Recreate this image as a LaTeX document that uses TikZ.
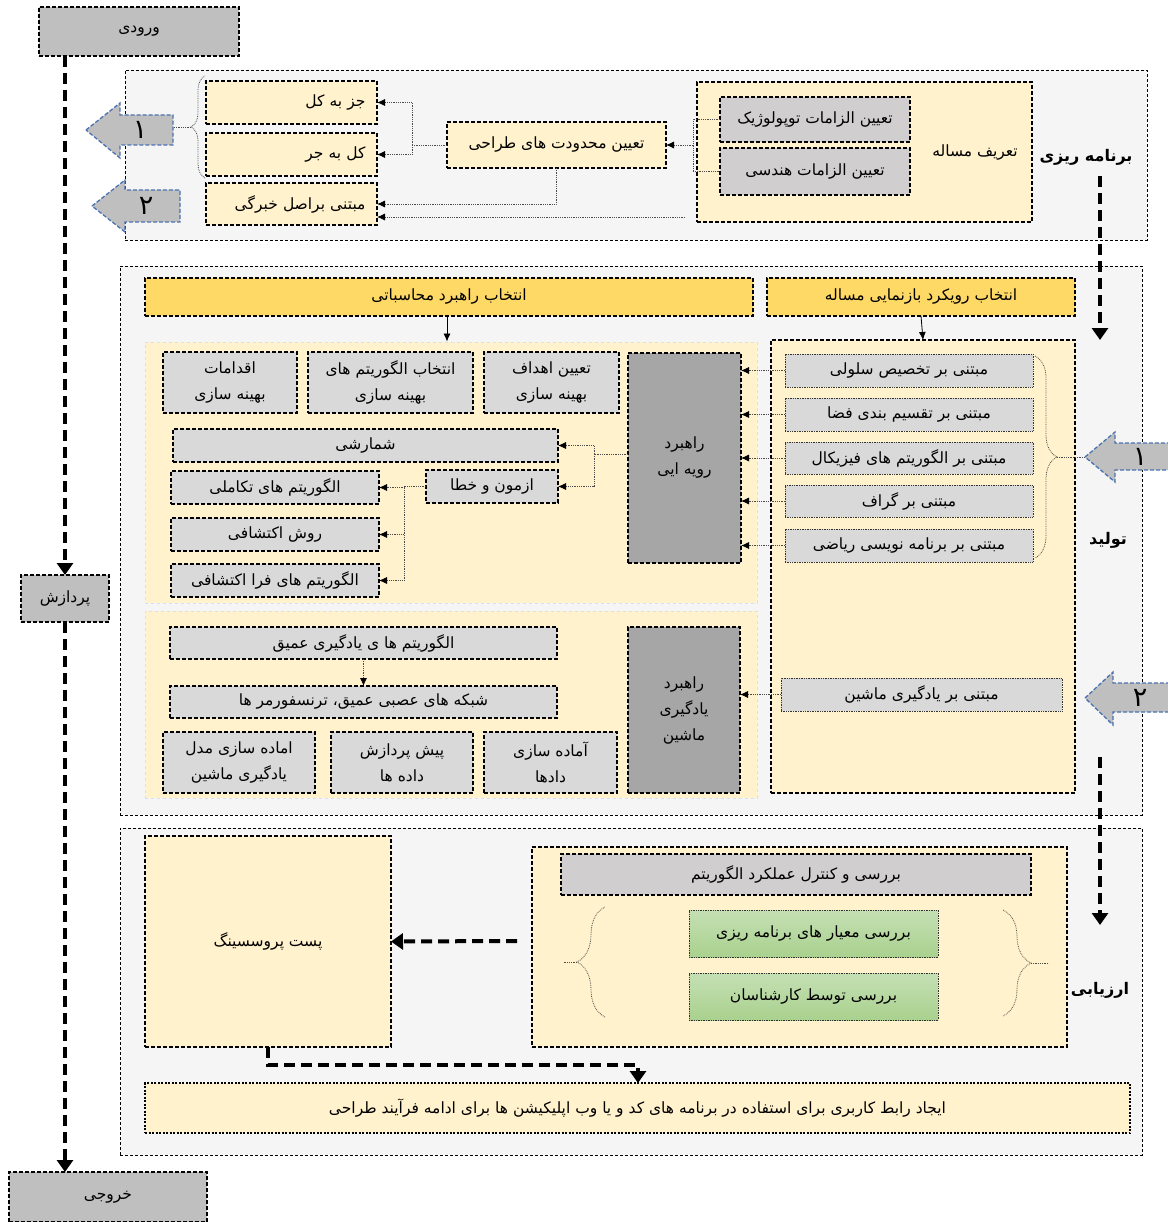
\documentclass[tikz,border=0pt]{standalone}
\usepackage{fontspec}
\newfontfamily\fafont[Script=Arabic]{DejaVu Sans}
\usetikzlibrary{arrows.meta,decorations.pathreplacing}
\TeXXeTstate=1
\newcommand{\fa}[1]{\beginR#1\endR}
\definecolor{secgray}{HTML}{F5F5F5}
\definecolor{lyel}{HTML}{FFF2CC}
\definecolor{goldy}{HTML}{FFD966}
\definecolor{boxgray}{HTML}{D9D9D9}
\definecolor{topgray}{HTML}{D0CECE}
\definecolor{darkgr}{HTML}{A6A6A6}
\definecolor{iogray}{HTML}{BFBFBF}
\definecolor{arrblue}{HTML}{4A72B0}
\definecolor{regblue}{HTML}{D6E0F0}
\definecolor{grtop}{HTML}{C5E0B4}
\definecolor{grbot}{HTML}{A9D18E}

\begin{document}
\begin{tikzpicture}[x=1pt,y=-1pt,
    font=\fafont\fontsize{15.5}{26}\selectfont,
    sect/.style={draw=black,line width=.8pt,dash pattern=on 3pt off 2pt,fill=secgray},
    box/.style={draw=black,line width=1.1pt,dash pattern=on 4pt off 2pt,
                align=center,inner sep=2pt,outer sep=0pt},
    ybox/.style={box,fill=lyel},
    gbox/.style={box,fill=boxgray},
    tbox/.style={box,fill=topgray},
    dbox/.style={box,fill=darkgr},
    hbox/.style={box,fill=goldy},
    iobox/.style={box,fill=iogray},
    lst/.style={draw=black!80,line width=.7pt,densely dotted,fill=boxgray,
                align=center,inner sep=2pt,outer sep=0pt},
    grbox/.style={lst,top color=grtop,bottom color=grbot},
    region/.style={draw=regblue,line width=1pt,dashed,fill=lyel},
    rtxt/.style={text width=#1,align=right},
    cn/.style={draw=black!70,line width=.8pt,densely dotted},
    ar/.style={cn,-{Latex[length=8pt,width=7pt,black]}},
    sar/.style={draw=black,line width=.8pt,-{Latex[length=8pt,width=7pt]}},
    big/.style={line width=4pt,dash pattern=on 11pt off 6pt,
                -{Triangle[length=12pt,width=16pt]}},
    blk/.style={draw=arrblue,line width=1.3pt,dash pattern=on 4pt off 2pt,fill=iogray},
    num/.style={font=\fafont\fontsize{27}{27}\selectfont},
    brc/.style={cn,decorate,decoration={brace,amplitude=#1}},
    lbl/.style={font=\fafont\fontsize{16}{20}\selectfont\bfseries}
  ]
  \fill[white] (0,0) rectangle (1167,1222);
  \useasboundingbox (0,0) rectangle (1167,1222);

  % input / processing / output
  \node[iobox,minimum width=200,minimum height=49] (inp) at (139,31.5) {\fa{ورودی}};
  \node[iobox,minimum width=88,minimum height=47] (prc) at (65,598.5) {\fa{پردازش}};
  \node[iobox,minimum width=198,minimum height=50] (outp) at (108,1197) {\fa{خروجی}};
  \draw[big] (inp.south -| prc.north) -- (prc.north);
  \draw[big] (prc.south) -- (prc.south |- outp.north);

  % planning
  \node[sect,minimum width=1022,minimum height=170] (plan) at (636,155) {};
  \node[ybox,minimum width=335,minimum height=140] (def) at (864.5,152) {};
  \node (deflbl) at (975,153) {\fa{تعریف مساله}};
  \node[tbox,minimum width=190,minimum height=45] (topo) at (815,119.5) {\fa{تعیین الزامات توپولوژیک}};
  \node[tbox,minimum width=190,minimum height=47] (geom) at (815,171.5) {\fa{تعیین الزامات هندسی}};
  \node[ybox,minimum width=219,minimum height=46] (cons) at (556.5,145) {\fa{تعیین محدودت های طراحی}};
  \node[ybox,rtxt=148,minimum width=171,minimum height=43] (jozb) at (291.5,102.5) {\fa{جز به کل}};
  \node[ybox,rtxt=148,minimum width=171,minimum height=43] (kolb) at (291.5,154.5) {\fa{کل به جر}};
  \node[ybox,rtxt=148,minimum width=171,minimum height=42] (khob) at (291.5,204) {\fa{مبتنی براصل خبرگی}};
  \node[lbl] (planlbl) at (1086,157) {\fa{برنامه ریزی}};

  \draw[cn] (topo.west) -- ++(-27,0) coordinate (tg) -- (tg |- geom.west) -- (geom.west);
  \draw[ar] (tg |- cons.east) -- (cons.east);
  \draw[cn] (cons.west) -- ++(-35,0) coordinate (cj);
  \draw[ar] (cj) |- (jozb.east);
  \draw[ar] (cj) |- (kolb.east);
  \draw[ar] (cons.south) |- (khob.east);
  \coordinate (defout) at (685,217);
  \draw[ar] (defout) -- (defout -| khob.east);
  \draw[brc=14] (205,178) -- (205,76);
  \coordinate (b1) at (191,127);
  \draw[cn] (b1) -- ++(-18,0);

  \filldraw[blk] (86,130) -- (120,103) -- (120,115) -- (173,115) -- (173,145)
    -- (120,145) -- (120,158) -- cycle;
  \node[num] (k1) at (140,130) {۱};
  \filldraw[blk] (92,206) -- (125,180) -- (125,190) -- (180,190) -- (180,222)
    -- (125,222) -- (125,232) -- cycle;
  \node[num] (k2) at (146,206) {۲};

  % generation
  \node[sect,minimum width=1022,minimum height=549] (gen) at (631,540.5) {};
  \node[hbox,minimum width=608,minimum height=38] (strat) at (449,297) {\fa{انتخاب راهبرد محاسباتی}};
  \node[hbox,minimum width=308,minimum height=38] (repr) at (921,297) {\fa{انتخاب رویکرد بازنمایی مساله}};
  \node[region,minimum width=612,minimum height=261] (rega) at (451,472.5) {};
  \node[region,minimum width=612,minimum height=187] (regb) at (451,704.5) {};
  \node[ybox,minimum width=304,minimum height=453] (reprbox) at (923,566.5) {};
  \draw[sar] ([xshift=-2pt]strat.south) -- ([xshift=-2pt]strat.south |- rega.north);
  \draw[sar] (repr.south) -- (reprbox.north);

  \node[gbox,minimum width=134,minimum height=61] (opt1) at (230,382.5) {\fa{اقدامات}\\\fa{بهینه سازی}};
  \node[gbox,minimum width=165,minimum height=61] (opt2) at (390.5,382.5) {\fa{انتخاب الگوریتم های}\\\fa{بهینه سازی}};
  \node[gbox,minimum width=135,minimum height=61] (opt3) at (551.5,382.5) {\fa{تعیین اهداف}\\\fa{بهینه سازی}};
  \node[dbox,minimum width=113,minimum height=210] (rav) at (684.5,458) {\fa{راهبرد}\\\fa{رویه ایی}};
  \node[gbox,minimum width=385,minimum height=33] (enum) at (365.5,445.5) {\fa{شمارشی}};
  \node[gbox,minimum width=132,minimum height=33] (trial) at (492,486.5) {\fa{ازمون و خطا}};
  \node[gbox,minimum width=208,minimum height=33] (evo) at (275,487.5) {\fa{الگوریتم های تکاملی}};
  \node[gbox,minimum width=208,minimum height=33] (heur) at (275,534.5) {\fa{روش اکتشافی}};
  \node[gbox,minimum width=208,minimum height=33] (meta) at (275,580.5) {\fa{الگوریتم های فرا اکتشافی}};
  \draw[cn] ([yshift=4pt]rav.west) -- ++(-34,0) coordinate (rj);
  \draw[ar] (rj) |- (enum.east);
  \draw[ar] (rj) |- (trial.east);
  \draw[cn] (trial.west) -- ++(-22,0) coordinate (tj);
  \foreach \n in {evo,heur,meta}
    \draw[ar] (tj) |- (\n.east);

  \node[lst,minimum width=248,minimum height=33] (r1) at (909,370.5) {\fa{مبتنی بر تخصیص سلولی}};
  \node[lst,minimum width=248,minimum height=33] (r2) at (909,414.5) {\fa{مبتنی بر تقسیم بندی فضا}};
  \node[lst,minimum width=248,minimum height=32] (r3) at (909,458) {\fa{مبتنی بر الگوریتم های فیزیکال}};
  \node[lst,minimum width=248,minimum height=32] (r4) at (909,501) {\fa{مبتنی بر گراف}};
  \node[lst,minimum width=248,minimum height=33] (r5) at (909,545.5) {\fa{مبتنی بر برنامه نویسی ریاضی}};
  \foreach \n in {r1,r2,r3,r4,r5}
    \draw[ar] (\n.west) -- (\n.west -| rav.east);
  \draw[brc=22] (1035,356) -- (1035,558);
  \coordinate (b2) at (1057,457);
  \draw[cn] (b2) -- ++(28,0);
  \node[lbl] (genlbl) at (1108,540) {\fa{تولید}};

  \filldraw[blk] (1085,457) -- (1115,432) -- (1115,443) -- (1180,443) -- (1180,470)
    -- (1115,470) -- (1115,482) -- cycle;
  \node[num] (k3) at (1140,457) {۱};
  \filldraw[blk] (1085,698) -- (1113,672) -- (1113,683) -- (1180,683) -- (1180,712)
    -- (1113,712) -- (1113,725) -- cycle;
  \node[num] (k4) at (1140,698) {۲};

  \node[lst,minimum width=281,minimum height=33] (ml) at (921.5,694.5) {\fa{مبتنی بر یادگیری ماشین}};
  \node[dbox,minimum width=112,minimum height=166] (rml) at (684,710) {\fa{راهبرد}\\\fa{یادگیری}\\\fa{ماشین}};
  \draw[ar] (ml.west) -- (ml.west -| rml.east);
  \node[gbox,minimum width=387,minimum height=32] (deep) at (363.5,643) {\fa{الگوریتم ها ی یادگیری عمیق}};
  \node[gbox,minimum width=387,minimum height=32] (dnn) at (363.5,702) {\fa{شبکه های عصبی عمیق، ترنسفورمر ها}};
  \draw[ar] (deep.south) -- (dnn.north);
  \node[gbox,minimum width=152,minimum height=61] (prepm) at (239,762.5) {\fa{اماده سازی مدل}\\\fa{یادگیری ماشین}};
  \node[gbox,minimum width=142,minimum height=61] (prep) at (402,762.5) {\fa{پیش پردازش}\\\fa{داده ها}};
  \node[gbox,minimum width=133,minimum height=61] (data) at (550.5,762.5) {\fa{آماده سازی}\\\fa{دادها}};

  \coordinate (p1) at (1100,176);
  \coordinate (p2) at (1100,340);
  \draw[big] (p1) -- (p2);
  \coordinate (p3) at (1100,757);
  \coordinate (p4) at (1100,925);

  % evaluation
  \node[sect,minimum width=1022,minimum height=327] (evl) at (631,991.5) {};
  \draw[big] (p3) -- (p4);
  \node[ybox,minimum width=246,minimum height=211] (post) at (268,941.5) {\fa{پست پروسسینگ}};
  \node[ybox,minimum width=535,minimum height=200] (chk) at (799.5,947) {};
  \node[tbox,minimum width=470,minimum height=41] (chk1) at (796,874.5) {\fa{بررسی و کنترل عملکرد الگوریتم}};
  \node[grbox,minimum width=249,minimum height=47] (g1) at (813.5,933.5) {\fa{بررسی معیار های برنامه ریزی}};
  \node[grbox,minimum width=249,minimum height=47] (g2) at (813.5,996.5) {\fa{بررسی توسط کارشناسان}};
  \draw[brc=28] (605,1017) -- (605,907);
  \coordinate (b3) at (577,962);
  \draw[cn] (b3) -- ++(-14,0);
  \draw[brc=28] (1003,910) -- (1003,1016);
  \coordinate (b4) at (1031,963);
  \draw[cn] (b4) -- ++(18,0);
  \node[lbl] (evlbl) at (1100,990) {\fa{ارزیابی}};
  \node[ybox,dash pattern=on 2pt off 1.5pt,minimum width=985,minimum height=50] (ui) at (637.5,1108)
    {\fa{ایجاد رابط کاربری برای استفاده در برنامه های کد و یا وب اپلیکیشن ها برای ادامه فرآیند طراحی}};
  \coordinate (c1) at (517,941);
  \draw[big] (c1) -- (post.east);
  \coordinate (c2) at (638,1065);
  \draw[big] (post.south) |- (c2) -- (c2 |- ui.north);
\end{tikzpicture}
\end{document}
